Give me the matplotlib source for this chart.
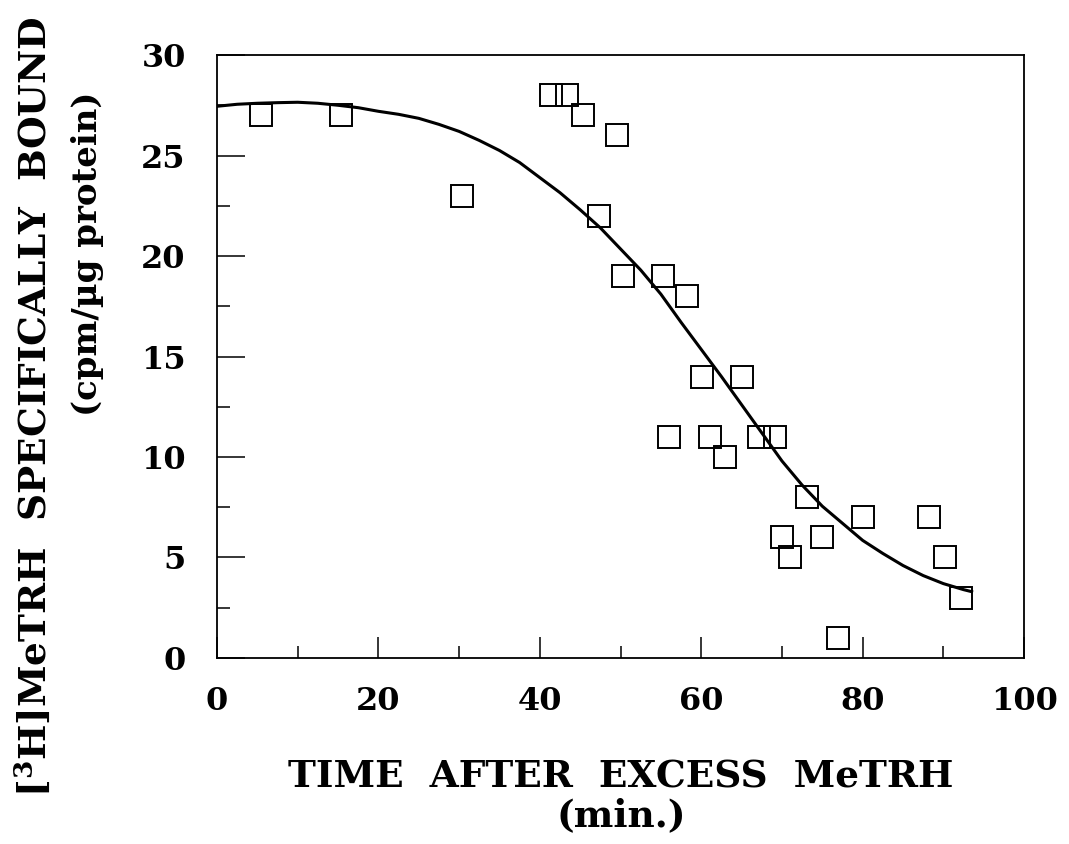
import matplotlib
matplotlib.use("Agg")
import matplotlib.pyplot as plt
from matplotlib.ticker import MultipleLocator

# binding data
time_min = [5.4, 15.4, 30.4, 41.4, 43.4, 45.4, 47.3, 49.5, 50.3, 55.3, 58.2,
            60.1, 65.1, 56.0, 61.1, 63.0, 67.1, 69.1, 73.1, 70.0, 71.0, 75.0,
            77.0, 80.1, 88.2, 90.2, 92.2]
bound = [27, 27, 23, 28, 28, 27, 22, 26, 19, 19, 18,
         14, 14, 11, 11, 10, 11, 11, 8, 6, 5, 6,
         1, 7, 7, 5, 3]

# fitted curve, read at 2.5 min steps
fit_x = [0, 2.5, 5, 7.5, 10, 12.5, 15, 17.5, 20, 22.5, 25, 27.5, 30, 32.5,
         35, 37.5, 40, 42.5, 45, 47.5, 50, 52.5, 55, 57.5, 60, 62.5, 65,
         67.5, 70, 72.5, 75, 77.5, 80, 82.5, 85, 87.5, 90, 92.5, 93.5]
fit_y = [27.45, 27.55, 27.6, 27.63, 27.65, 27.6, 27.5, 27.38, 27.2, 27.05,
         26.85, 26.55, 26.2, 25.75, 25.25, 24.65, 23.9, 23.15, 22.3, 21.4,
         20.35, 19.3, 18.1, 16.7, 15.35, 14.0, 12.6, 11.2, 9.8, 8.6,
         7.55, 6.7, 5.85, 5.2, 4.6, 4.1, 3.7, 3.4, 3.3]

plt.rcParams["font.family"] = ["DejaVu Serif"]
plt.rcParams["font.weight"] = "bold"
plt.rcParams["mathtext.fontset"] = "dejavuserif"
plt.rcParams["mathtext.default"] = "bf"

fig = plt.figure(figsize=(10.69, 8.44), dpi=100)
ax = fig.add_axes([0.203, 0.2204, 0.755, 0.7144])

ax.plot(fit_x, fit_y, color="black", lw=2.2, zorder=2)
ax.plot(time_min, bound, ls="none", marker="s", ms=15.5, mfc="none",
        mec="black", mew=1.4, zorder=3)

ax.set_xlim(0, 100)
ax.set_ylim(0, 30)
ax.xaxis.set_major_locator(MultipleLocator(20))
ax.xaxis.set_minor_locator(MultipleLocator(10))
ax.yaxis.set_major_locator(MultipleLocator(5))
ax.yaxis.set_minor_locator(MultipleLocator(2.5))

ax.tick_params(axis="x", which="major", direction="in", length=15, width=1.1,
               pad=20, labelsize=23)
ax.tick_params(axis="x", which="minor", direction="in", length=8.6, width=1.1)
ax.tick_params(axis="y", which="major", direction="in", length=20, width=1.1,
               pad=22.5, labelsize=23)
ax.tick_params(axis="y", which="minor", direction="in", length=9.4, width=1.1)
for lab in ax.get_xticklabels() + ax.get_yticklabels():
    lab.set_fontweight("bold")
for sp in ax.spines.values():
    sp.set_linewidth(1.3)

# axis titles placed as figure text to match the printed layout
fig.text(0.581, 1 - 777 / 844, "TIME  AFTER  EXCESS  MeTRH", ha="center",
         va="center", fontsize=27, fontweight="bold")
fig.text(0.581, 1 - 816 / 844, "(min.)", ha="center", va="center",
         fontsize=27, fontweight="bold")
fig.text(35 / 1069, 1 - 407 / 844, r"[$^{3}$H]MeTRH  SPECIFICALLY  BOUND",
         rotation=90, ha="center", va="center", fontsize=27, fontweight="bold")
fig.text(88 / 1069, 1 - 254 / 844, "(cpm/µg protein)", rotation=90,
         ha="center", va="center", fontsize=24.5, fontweight="bold")

fig.savefig("out.png", dpi=100)
